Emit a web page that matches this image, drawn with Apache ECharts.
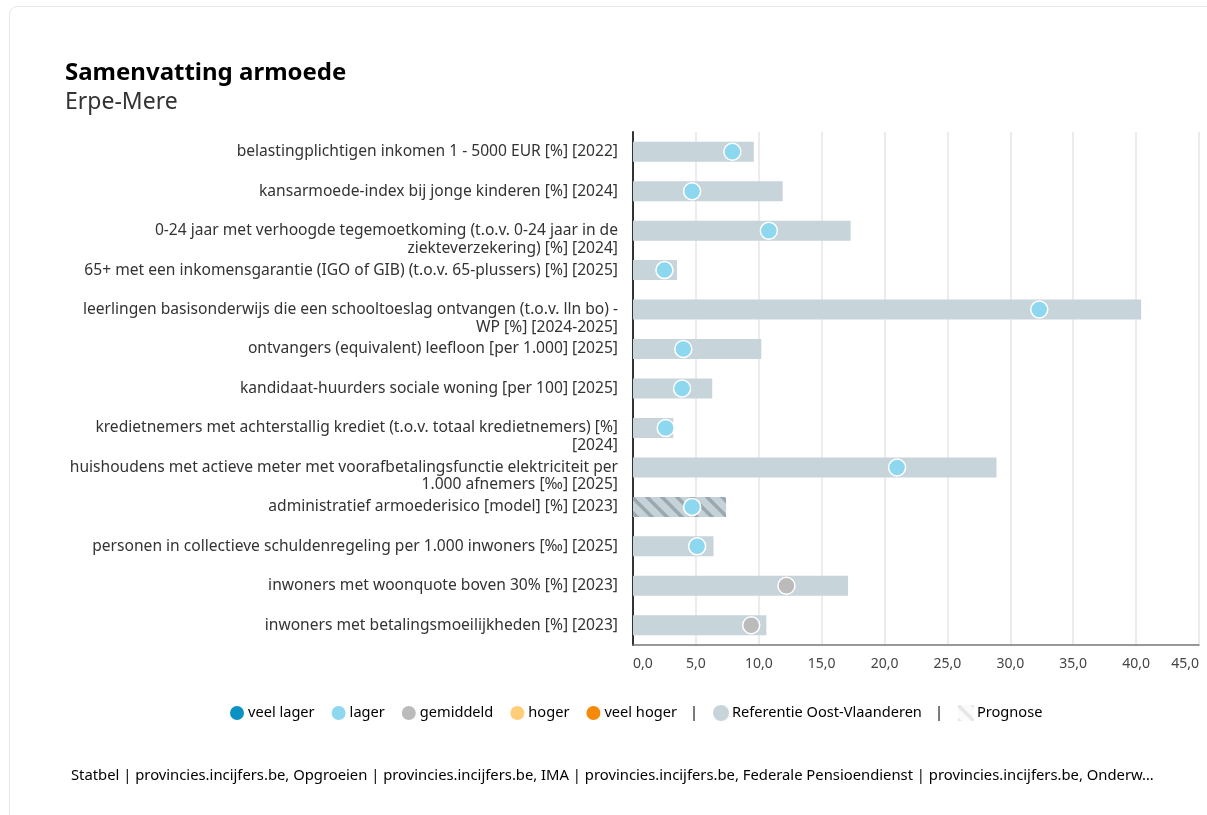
<!DOCTYPE html>
<html>
<head>
<meta charset="utf-8">
<script src="https://cdn.jsdelivr.net/npm/echarts@6/dist/echarts.min.js"></script>
<style>
  html, body { margin: 0; padding: 0; background: #fff; }
  #chart { width: 1207px; height: 815px; }
</style>
</head>
<body>
<div id="chart"></div>
<script>
// indicatoren (y-as), van boven naar onder
var categories = [
  'belastingplichtigen inkomen 1 - 5000 EUR [%] [2022]',
  'kansarmoede-index bij jonge kinderen [%] [2024]',
  '0-24 jaar met verhoogde tegemoetkoming (t.o.v. 0-24 jaar in de\nziekteverzekering) [%] [2024]',
  '65+ met een inkomensgarantie (IGO of GIB) (t.o.v. 65-plussers) [%] [2025]',
  'leerlingen basisonderwijs die een schooltoeslag ontvangen (t.o.v. lln bo) -\nWP [%] [2024-2025]',
  'ontvangers (equivalent) leefloon [per 1.000] [2025]',
  'kandidaat-huurders sociale woning [per 100] [2025]',
  'kredietnemers met achterstallig krediet (t.o.v. totaal kredietnemers) [%]\n[2024]',
  'huishoudens met actieve meter met voorafbetalingsfunctie elektriciteit per\n1.000 afnemers [‰] [2025]',
  'administratief armoederisico [model] [%] [2023]',
  'personen in collectieve schuldenregeling per 1.000 inwoners [‰] [2025]',
  'inwoners met woonquote boven 30% [%] [2023]',
  'inwoners met betalingsmoeilijkheden [%] [2023]'
];
// referentie Oost-Vlaanderen (balken)
var referentie = [9.6, 11.9, 17.3, 3.5, 40.4, 10.2, 6.3, 3.2, 28.9, 7.4, 6.4, 17.1, 10.6];
// Erpe-Mere (bolletjes)
var gemeente = [7.9, 4.7, 10.8, 2.5, 32.3, 4.0, 3.9, 2.6, 21.0, 4.7, 5.1, 12.2, 9.4];
var klasse = ['lager', 'lager', 'lager', 'lager', 'lager', 'lager', 'lager', 'lager', 'lager', 'lager', 'lager', 'gemiddeld', 'gemiddeld'];
var prognose = [false, false, false, false, false, false, false, false, false, true, false, false, false];
var klassen = ['veel lager', 'lager', 'gemiddeld', 'hoger', 'veel hoger'];
var klasseKleur = ['#0b92c2', '#8dd8ef', '#bbbbbb', '#ffcc77', '#f58a0a'];
var xTicks = [0, 5, 10, 15, 20, 25, 30, 35, 40, 45];

var fontFam = '"Noto Sans", "Open Sans", sans-serif';

function maakStreep(bg, fg, lw) {
  var c = document.createElement('canvas');
  c.width = 15; c.height = 15;
  var ctx = c.getContext('2d');
  ctx.fillStyle = bg;
  ctx.fillRect(0, 0, 15, 15);
  ctx.strokeStyle = fg;
  ctx.lineWidth = lw;
  for (var k = -1; k <= 1; k++) {
    ctx.beginPath();
    ctx.moveTo(k * 15 - 2, -2);
    ctx.lineTo(k * 15 + 17, 17);
    ctx.stroke();
  }
  return c;
}
var streep = maakStreep('#c5d2d8', '#9aa9b0', 3.5);
var streepLegend = maakStreep('#fbfbfb', '#e6e6e6', 3.5);

var refData = referentie.map(function (v, i) { return prognose[i] ? '-' : v; });
var progData = referentie.map(function (v, i) { return prognose[i] ? v : '-'; });

var series = [
  {
    name: 'Referentie Oost-Vlaanderen', type: 'bar', data: refData,
    barWidth: 20, barGap: '-100%', itemStyle: { color: '#c7d4da' }, silent: true
  },
  {
    name: 'Prognose', type: 'bar', data: progData,
    barWidth: 20, barGap: '-100%',
    itemStyle: { color: { image: streep, repeat: 'repeat' } }, silent: true
  }
];
klassen.forEach(function (k, ki) {
  series.push({
    name: k, type: 'scatter', symbol: 'circle', symbolSize: 17, z: 5,
    itemStyle: { color: klasseKleur[ki], borderColor: '#fff', borderWidth: 1.5, opacity: 1 },
    data: gemeente.map(function (v, i) { return klasse[i] === k ? [v, i] : null; })
      .filter(function (d) { return d; })
  });
});

var chart = echarts.init(document.getElementById('chart'));
chart.setOption({
  animation: false,
  textStyle: { fontFamily: fontFam },
  title: {
    text: 'Samenvatting armoede', subtext: 'Erpe-Mere',
    left: 60, top: 53, itemGap: 0,
    textStyle: { fontSize: 24, fontWeight: 'bold', color: '#000', fontFamily: fontFam, lineHeight: 30 },
    subtextStyle: { fontSize: 23, color: '#333', fontFamily: fontFam, lineHeight: 28 }
  },
  graphic: [
    { type: 'rect', shape: { x: 9.5, y: 6.5, width: 1240, height: 850, r: 8 }, style: { fill: 'none', stroke: '#e6e6e6', lineWidth: 1 }, silent: true },
    { type: 'text', left: 71, top: 768, style: {
      text: 'Statbel | provincies.incijfers.be, Opgroeien | provincies.incijfers.be, IMA | provincies.incijfers.be, Federale Pensioendienst | provincies.incijfers.be, Onderw\u2026',
      fontSize: 14.8, fill: '#000', fontFamily: fontFam } }
  ],
  legend: {
    left: 228, top: 704, padding: 0, icon: 'circle', itemWidth: 16, itemHeight: 16, itemGap: 15,
    selectedMode: false,
    data: klassen.concat(['Referentie Oost-Vlaanderen', {
      name: 'Prognose', icon: 'rect', itemStyle: { color: { image: streepLegend, repeat: 'repeat' } }
    }]),
    textStyle: { fontSize: 14.6, color: '#000', fontFamily: fontFam, padding: [0, 0, 0, -2],
      rich: { s: { fontSize: 14.6, color: '#000', padding: [0, 0, 0, 13], fontFamily: fontFam } } },
    formatter: function (n) {
      if (n === 'veel hoger' || n === 'Referentie Oost-Vlaanderen') return n + '{s||}';
      return n;
    }
  },
  grid: { left: 633, right: 8, top: 132, bottom: 170, containLabel: false },
  xAxis: {
    type: 'value', min: xTicks[0], max: xTicks[xTicks.length - 1], interval: 5,
    axisLine: { show: true, lineStyle: { color: '#777', width: 1.5 } },
    axisTick: { show: false },
    splitLine: { show: true, lineStyle: { color: '#e6e6e6', width: 1.5 } },
    axisLabel: {
      margin: 12, fontSize: 14, color: '#444', fontFamily: fontFam,
      alignMinLabel: 'left', alignMaxLabel: 'right',
      formatter: function (v) { return v.toFixed(1).replace('.', ','); }
    }
  },
  yAxis: {
    type: 'category', data: categories, inverse: true,
    axisLine: { show: true, lineStyle: { color: '#333', width: 2 } },
    axisTick: { show: false },
    splitLine: { show: false },
    axisLabel: {
      margin: 15, fontSize: 15.6, color: '#333', lineHeight: 17.5, fontFamily: fontFam,
      interval: 0,
      formatter: function (v) { return v.indexOf('\n') >= 0 ? '\n' + v : v; }
    }
  },
  series: series
});
</script>
</body>
</html>
